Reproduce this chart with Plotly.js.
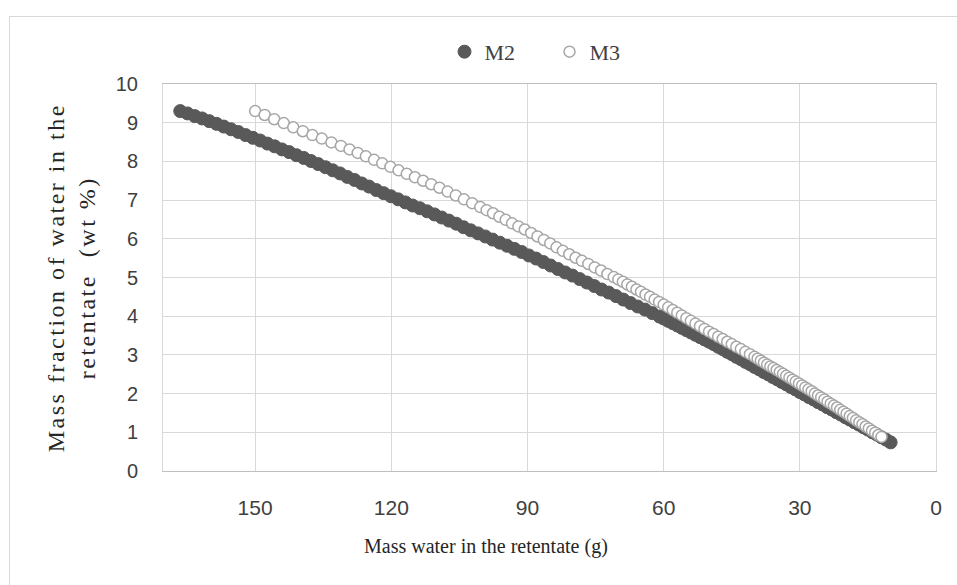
<!DOCTYPE html>
<html><head><meta charset="utf-8">
<script src="https://cdn.plot.ly/plotly-3.0.1.min.js"></script>
<style>
html,body{margin:0;padding:0;background:#fff;overflow:hidden;}
#chart{width:957px;height:585px;}
#frame{position:absolute;left:9px;top:16px;width:1200px;height:1200px;border-left:1px solid #d9d9d9;border-top:1px solid #d9d9d9;pointer-events:none;}
.annotation[data-index="1"] text{letter-spacing:2.5px;}
</style></head><body>
<div id="chart"></div><div id="frame"></div>
<script>
const seriesNames = ['M2', 'M3'];

const m2Mass = [166.5,164.9,163.3,161.7,160.1,158.5,156.9,155.3,153.7,152.1,150.5,148.9,147.3,145.7,144.1,142.5,140.9,139.3,137.7,136.1,134.5,132.9,131.3,129.7,128.1,126.5,124.9,123.3,121.7,120.1,118.5,116.9,115.3,113.7,112.1,110.5,108.9,107.3,105.7,104.1,102.5,100.9,99.3,97.7,96.1,94.5,92.9,91.3,89.7,88.1,86.5,84.9,83.3,81.7,80.1,78.5,76.9,75.3,73.7,72.1,70.5,68.9,67.3,65.7,64.1,62.5,60.9,
60,59,58,57,56,55,54,53,52,51,50,49,48,47,46,45,44,43,42,41,40,39,38,37,36,35,34,33,32,31,30,29,28,27,26,25,24,23,22,21,20,19,18,17,16,15,14,13,12,11,10];
const m2Frac = [9.30,9.24,9.17,9.11,9.04,8.97,8.90,8.83,8.76,8.68,8.61,8.54,8.46,8.39,8.31,8.24,8.16,8.09,8.01,7.93,7.85,7.77,7.69,7.60,7.52,7.43,7.35,7.26,7.18,7.10,7.02,6.94,6.86,6.79,6.71,6.63,6.55,6.47,6.39,6.30,6.22,6.14,6.06,5.98,5.90,5.82,5.74,5.66,5.57,5.49,5.40,5.31,5.22,5.13,5.05,4.96,4.87,4.78,4.69,4.61,4.52,4.43,4.34,4.25,4.17,4.08,3.99,
3.94,3.88,3.82,3.76,3.70,3.64,3.58,3.52,3.46,3.40,3.34,3.28,3.21,3.15,3.08,3.02,2.95,2.89,2.82,2.76,2.69,2.63,2.56,2.50,2.43,2.37,2.30,2.24,2.17,2.11,2.04,1.98,1.91,1.85,1.78,1.72,1.65,1.59,1.52,1.46,1.39,1.33,1.26,1.20,1.13,1.07,1.00,0.94,0.87,0.81,0.74];

const m3Mass = [150,147.9,145.8,143.7,141.6,139.5,137.4,135.3,133.2,131.1,129.2,127.4,125.6,123.8,122.0,120.2,118.4,116.6,114.8,113.0,111.2,109.4,107.6,105.8,104.0,102.2,100.4,99.0,97.6,96.2,94.8,93.4,92.0,90.6,89.2,87.8,86.4,85.0,83.6,82.2,80.8,79.4,78.0,76.6,75.2,73.8,72.4,71.0,
70,69,68,67,66,65,64,63,62,61,60,59,58,57,56,55,54,53,52,51,50,49,48,47,46,45,44,43,42,41,
40.0,39.3,38.6,37.9,37.2,36.5,35.8,35.1,34.4,33.7,33.0,32.3,31.6,30.9,30.2,29.5,28.8,28.1,27.4,26.7,26.0,25.3,24.6,23.9,23.2,22.5,21.8,21.1,20.4,19.7,19.0,18.3,17.6,16.9,16.2,15.5,14.8,14.1,13.4,12.7,12.0];
const m3Frac = [9.30,9.20,9.09,8.99,8.88,8.78,8.68,8.59,8.49,8.40,8.31,8.22,8.13,8.04,7.95,7.86,7.77,7.68,7.59,7.50,7.41,7.32,7.22,7.12,7.02,6.92,6.82,6.74,6.66,6.57,6.49,6.40,6.32,6.24,6.15,6.06,5.97,5.88,5.78,5.69,5.60,5.51,5.43,5.35,5.26,5.18,5.09,5.01,
4.95,4.89,4.82,4.76,4.69,4.63,4.56,4.50,4.43,4.37,4.30,4.23,4.16,4.09,4.02,3.95,3.88,3.81,3.74,3.67,3.60,3.54,3.47,3.41,3.34,3.28,3.21,3.15,3.08,3.02,
2.95,2.90,2.85,2.80,2.75,2.70,2.66,2.61,2.56,2.51,2.46,2.41,2.36,2.31,2.26,2.21,2.16,2.11,2.06,2.00,1.95,1.90,1.85,1.79,1.74,1.69,1.64,1.58,1.53,1.48,1.42,1.37,1.31,1.26,1.21,1.15,1.10,1.04,0.99,0.93,0.88];

const xTickVals = [150, 120, 90, 60, 30, 0];
const yTickVals = [0, 1, 2, 3, 4, 5, 6, 7, 8, 9, 10];
const xTitle = 'Mass water in the retentate (g)';
const yTitle = 'Mass fraction of water in the<br>retentate  (wt %)';

const serif = '"Liberation Serif", "Times New Roman", serif';
const sans = '"Liberation Sans", Arial, sans-serif';

const traces = [
  {
    type: 'scatter', mode: 'markers', name: seriesNames[0],
    x: m2Mass, y: m2Frac,
    marker: {size: 13, color: '#595959', line: {color: '#595959', width: 1}}
  },
  {
    type: 'scatter', mode: 'markers', name: seriesNames[1],
    x: m3Mass, y: m3Frac,
    marker: {size: 11, color: '#ffffff', line: {color: '#a6a6a6', width: 1.5}}
  }
];

const layout = {
  width: 957, height: 585,
  margin: {l: 163, r: 21, t: 84, b: 114},
  paper_bgcolor: '#ffffff', plot_bgcolor: '#ffffff',
  showlegend: true,
  legend: {
    orientation: 'h', x: 0.5, xanchor: 'center', y: 1.083, yanchor: 'middle',
    font: {family: serif, size: 22, color: '#404040'},
    entrywidth: 60, entrywidthmode: 'pixels'
  },
  xaxis: {
    range: [170.3, 0], tickvals: xTickVals, ticks: '',
    showgrid: true, gridcolor: '#d9d9d9', gridwidth: 1,
    showline: true, linecolor: '#bfbfbf', linewidth: 1, mirror: true,
    zeroline: false, ticklabelstandoff: 18,
    tickfont: {family: sans, size: 21, color: '#404040'}
  },
  yaxis: {
    range: [0, 10], tickvals: yTickVals, ticks: '',
    showgrid: true, gridcolor: '#d9d9d9', gridwidth: 1,
    showline: true, linecolor: '#d9d9d9', linewidth: 1, mirror: true,
    zeroline: false, ticklabelstandoff: 20,
    tickfont: {family: sans, size: 20, color: '#404040'}
  },
  annotations: [
    {text: xTitle, xref: 'paper', yref: 'paper', x: 0.418, y: -0.194,
     xanchor: 'center', yanchor: 'middle', showarrow: false,
     font: {family: serif, size: 20, color: '#262626'}},
    {text: yTitle, xref: 'paper', yref: 'paper', x: -0.1184, y: 0.5,
     xanchor: 'center', yanchor: 'middle', showarrow: false, textangle: -90,
     font: {family: serif, size: 24, color: '#262626'}}
  ]
};

Plotly.newPlot('chart', traces, layout, {displayModeBar: false, staticPlot: true});
</script>
</body></html>
